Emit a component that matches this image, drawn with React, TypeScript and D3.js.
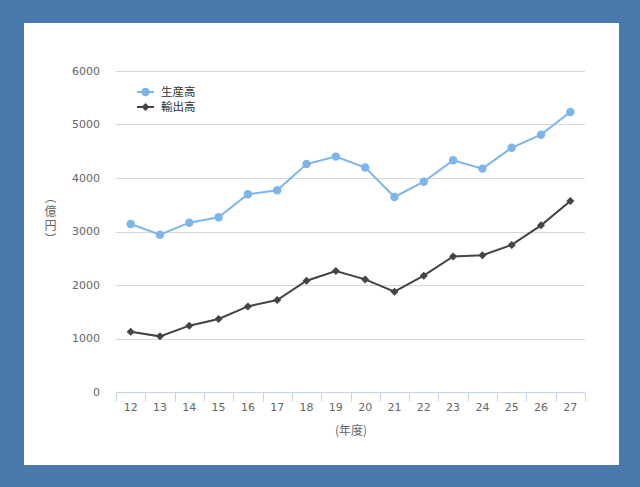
import React, { useEffect, useRef } from "react";
import * as d3 from "d3";

// 年度 (平成)
const years = ["12", "13", "14", "15", "16", "17", "18", "19", "20", "21", "22", "23", "24", "25", "26", "27"];
// 生産高 (億円)
const production = [3140, 2940, 3165, 3265, 3695, 3770, 4260, 4400, 4195, 3645, 3930, 4330, 4175, 4565, 4810, 5235];
// 輸出高 (億円)
const exports = [1125, 1040, 1240, 1365, 1600, 1720, 2080, 2260, 2105, 1875, 2175, 2535, 2555, 2750, 3115, 3570];
const yTicks = [0, 1000, 2000, 3000, 4000, 5000, 6000];

const W = 640;
const H = 487;
const margin = { left: 116, right: 55, top: 71, bottom: 95 };

const App = () => {
  const ref = useRef<SVGSVGElement>(null);

  useEffect(() => {
    const svg = d3.select(ref.current);
    svg.selectAll("*").remove();

    // 背景
    svg.append("rect").attr("width", W).attr("height", H).attr("fill", "#4a7aad");
    svg.append("rect").attr("x", 24).attr("y", 23).attr("width", 595).attr("height", 442).attr("fill", "#ffffff");

    const x = d3.scaleBand().domain(years).range([margin.left, W - margin.right]);
    const y = d3.scaleLinear().domain([0, 6000]).range([H - margin.bottom, margin.top]);
    const cx = (d: string) => (x(d) as number) + x.bandwidth() / 2;

    // グリッド線
    svg.append("g")
      .selectAll("line")
      .data(yTicks.filter(t => t > 0))
      .enter()
      .append("line")
      .attr("x1", margin.left)
      .attr("x2", W - margin.right)
      .attr("y1", d => Math.round(y(d)) + 0.5)
      .attr("y2", d => Math.round(y(d)) + 0.5)
      .attr("stroke", "#d8d8d8");

    // Y軸ラベル
    svg.append("g")
      .selectAll("text")
      .data(yTicks)
      .enter()
      .append("text")
      .attr("x", 100)
      .attr("y", d => y(d))
      .attr("dy", "0.35em")
      .attr("text-anchor", "end")
      .attr("font-family", "DejaVu Sans")
      .attr("font-size", 11)
      .attr("fill", "#666666")
      .text(d => d);

    // X軸
    const xAxis = svg.append("g").attr("transform", `translate(0,${Math.round(y(0)) + 0.5})`);
    xAxis.append("line")
      .attr("x1", margin.left)
      .attr("x2", W - margin.right)
      .attr("stroke", "#c5d3e6");
    xAxis.selectAll("line.tick")
      .data([...years.map(d => x(d) as number), W - margin.right])
      .enter()
      .append("line")
      .attr("class", "tick")
      .attr("x1", d => Math.round(d) + 0.5)
      .attr("x2", d => Math.round(d) + 0.5)
      .attr("y1", 0)
      .attr("y2", 9)
      .attr("stroke", "#c5d3e6");
    xAxis.selectAll("text")
      .data(years)
      .enter()
      .append("text")
      .attr("x", d => cx(d))
      .attr("y", 18)
      .attr("text-anchor", "middle")
      .attr("font-family", "DejaVu Sans")
      .attr("font-size", 11)
      .attr("fill", "#666666")
      .text(d => d);

    // 軸タイトル
    svg.append("text")
      .attr("x", 351)
      .attr("y", 435)
      .attr("text-anchor", "middle")
      .attr("font-family", "Noto Sans CJK JP")
      .attr("font-size", 12)
      .attr("fill", "#666666")
      .text("(年度)");

    // 縦書き（億円）
    svg.append("text")
      .attr("x", 50.5)
      .attr("y", 219)
      .attr("text-anchor", "middle")
      .attr("writing-mode", "tb")
      .style("writing-mode", "vertical-rl")
      .style("text-orientation", "mixed")
      .attr("font-family", "Noto Sans CJK JP")
      .attr("font-size", 12)
      .attr("letter-spacing", 2)
      .attr("fill", "#666666")
      .text("（億円）");

    const line = d3.line<number>()
      .x((_, i) => cx(years[i]))
      .y(d => y(d));

    const series = [
      { name: "生産高", values: production, color: "#7cb5ec", symbol: d3.symbolCircle, size: 56, rot: 0 },
      { name: "輸出高", values: exports, color: "#434348", symbol: d3.symbolSquare, size: 32, rot: 45 },
    ];

    series.forEach((s, si) => {
      svg.append("path")
        .datum(s.values)
        .attr("d", line)
        .attr("fill", "none")
        .attr("stroke", s.color)
        .attr("stroke-width", 2);
      const sym = d3.symbol().type(s.symbol).size(s.size);
      svg.append("g")
        .selectAll("path")
        .data(s.values)
        .enter()
        .append("path")
        .attr("transform", (d, i) => `translate(${cx(years[i])},${y(d)}) rotate(${s.rot})`)
        .attr("d", sym)
        .attr("fill", s.color);

      // 凡例
      const ly = 92 + si * 15;
      const lg = svg.append("g");
      lg.append("line")
        .attr("x1", 137).attr("x2", 154)
        .attr("y1", ly).attr("y2", ly)
        .attr("stroke", s.color).attr("stroke-width", 2);
      lg.append("path")
        .attr("transform", `translate(145.5,${ly}) rotate(${s.rot})`)
        .attr("d", sym)
        .attr("fill", s.color);
      lg.append("text")
        .attr("x", 161)
        .attr("y", ly)
        .attr("dy", "0.35em")
        .attr("font-family", "Noto Sans CJK JP")
        .attr("font-size", 11.5)
        .attr("fill", "#333333")
        .text(s.name);
    });
  }, []);

  return (
    <div style={{ position: "absolute", left: 0, top: 0 }}>
      <svg ref={ref} width={W} height={H} style={{ display: "block" }} />
    </div>
  );
};

export default App;
